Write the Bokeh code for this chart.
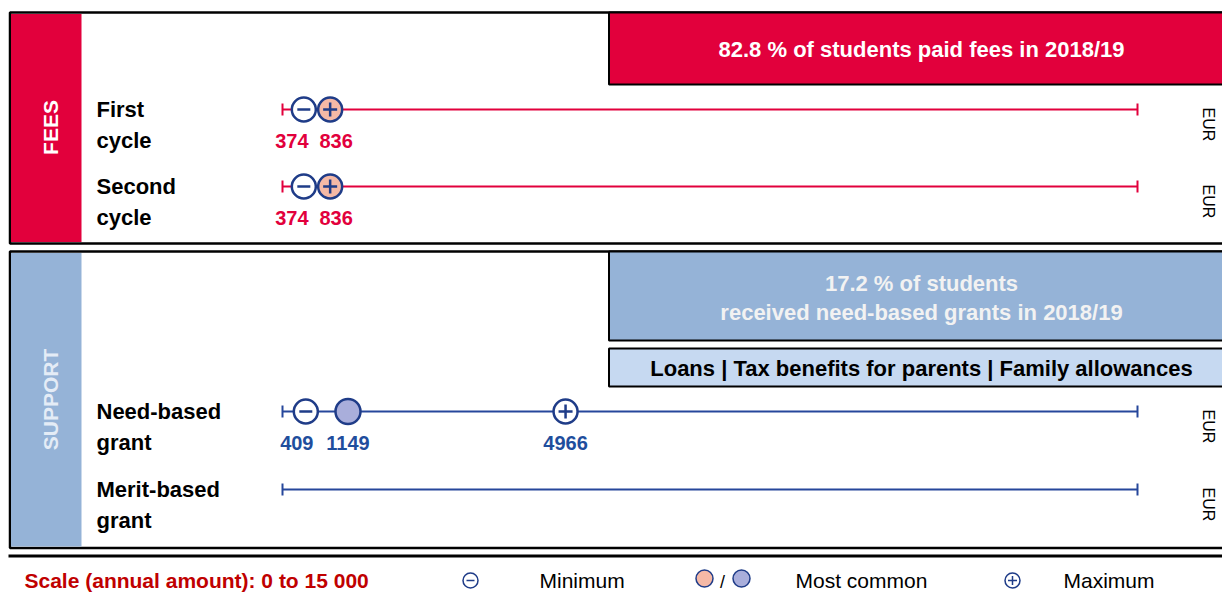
import math
from bokeh.plotting import figure
from bokeh.models import Range1d
from bokeh.core.properties import value
from bokeh.embed import file_html
from bokeh.resources import INLINE

# ---------------- data ----------------
SCALE_MIN = 0
SCALE_MAX = 15000
row_title_1 = ["First", "Second", "Need-based", "Merit-based"]
row_title_2 = ["cycle", "cycle", "grant", "grant"]
row_group = ["fees", "fees", "support", "support"]
minimum = [374, 374, 409, None]
most_common = [836, 836, 1149, None]
maximum = [836, 836, 4966, None]
unit = "EUR"
fees_note = "82.8 % of students paid fees in 2018/19"
support_note_1 = "17.2 % of students"
support_note_2 = "received need-based grants in 2018/19"
other_support = "Loans | Tax benefits for parents | Family allowances"
scale_note = "Scale (annual amount): 0 to 15 000"
legend_labels = ["Minimum", "Most common", "Maximum"]

# ---------------- style ----------------
RED = "#E2003C"
DARKRED = "#C00000"
BAND_BLUE = "#95B3D7"
LIGHT_BLUE = "#C6D9F1"
NAVY = "#1F3C88"
LINE_BLUE = "#26479B"
NUM_BLUE = "#1F4E9D"
SALMON = "#F5B9A6"
LAVENDER = "#A9AEDB"
SANS = "Liberation Sans"

W, H = 1222, 595
p = figure(width=W, height=H, output_backend="svg", toolbar_location=None,
           x_axis_type=None, y_axis_type=None,
           x_range=Range1d(0, W), y_range=Range1d(H, 0),
           min_border=0, outline_line_color=None)
p.xgrid.visible = False
p.ygrid.visible = False

# value scale: 0 -> pixel 282, 15000 -> pixel 1137
PX0, PX1 = 282, 1137
k = (SCALE_MAX - SCALE_MIN) / (PX1 - PX0)
p.extra_x_ranges = {"eur": Range1d(SCALE_MIN + (0 - PX0) * k, SCALE_MIN + (W - PX0) * k)}

def label(x, y, txt, size, color, bold=True, align="center", angle=0.0, **kw):
    p.text(x=x, y=y, text=txt, angle=angle, text_font=value(SANS),
           text_font_style="bold" if bold else "normal", text_font_size=size,
           text_color=color, text_align=align, text_baseline="middle", **kw)

# ---------------- panels ----------------
# fees panel
p.quad(left=[9.5], right=[1240], top=[12], bottom=[243], fill_color="white",
       line_color="black", line_width=2.5)
p.quad(left=[10.5], right=[81], top=[13.5], bottom=[241.5], fill_color=RED, line_color=None)
p.quad(left=[608.5], right=[1240], top=[12], bottom=[84], fill_color=RED,
       line_color="black", line_width=2)
label([921], [49], [fees_note], "22px", "white")
label([50], [127], ["FEES"], "21px", "white", angle=math.pi / 2)

# support panel
p.quad(left=[9.5], right=[1240], top=[251], bottom=[547.5], fill_color="white",
       line_color="black", line_width=2.5)
p.quad(left=[10.5], right=[81], top=[252.5], bottom=[546], fill_color=BAND_BLUE, line_color=None)
p.quad(left=[608.5], right=[1240], top=[251], bottom=[340], fill_color=BAND_BLUE,
       line_color="black", line_width=2)
label([921, 921], [283, 312], [support_note_1, support_note_2], "22px", "#F2F2F2")
p.quad(left=[608.5], right=[1240], top=[348], bottom=[386], fill_color=LIGHT_BLUE,
       line_color="black", line_width=2)
label([921], [368], [other_support], "22px", "black")
label([50], [399], ["SUPPORT"], "21px", "#E4ECF6", angle=math.pi / 2)

# ---------------- rows ----------------
row_y = [109, 186, 411, 489]
for i in range(len(row_title_1)):
    y = row_y[i]
    fees = row_group[i] == "fees"
    lc = RED if fees else LINE_BLUE
    tc = RED if fees else NUM_BLUE
    fill_mc = SALMON if fees else LAVENDER
    label([96, 96], [y, y + 31], [row_title_1[i], row_title_2[i]], "22px", "black", align="left")
    p.segment(x0=[SCALE_MIN], x1=[SCALE_MAX], y0=[y], y1=[y], line_color=lc,
              line_width=2, x_range_name="eur")
    p.segment(x0=[SCALE_MIN, SCALE_MAX], x1=[SCALE_MIN, SCALE_MAX], y0=[y - 6, y - 6],
              y1=[y + 6, y + 6], line_color=lc, line_width=2, x_range_name="eur")
    label([1208], [y + 15], [unit], "16px", "black", bold=False, angle=-math.pi / 2)

    mn, mc, mx = minimum[i], most_common[i], maximum[i]
    labels = []
    if mn is not None:
        p.scatter(x=[mn], y=[y], marker="circle", size=24, fill_color="white",
                  line_color=NAVY, line_width=2.5, x_range_name="eur")
        p.scatter(x=[mn], y=[y], marker="dash", size=13, line_color=NAVY,
                  line_width=2.5, x_range_name="eur")
        labels.append((mn, -12 if fees else -9))
    if mc is not None and mc != mx:
        p.scatter(x=[mc], y=[y], marker="circle", size=25, fill_color=fill_mc,
                  line_color=NAVY, line_width=2.5, x_range_name="eur")
        labels.append((mc, 0))
    if mx is not None:
        p.scatter(x=[mx], y=[y], marker="circle", size=24,
                  fill_color=fill_mc if mc == mx else "white",
                  line_color=NAVY, line_width=2.5, x_range_name="eur")
        p.scatter(x=[mx], y=[y], marker="cross", size=14, line_color=NAVY,
                  line_width=2.5, x_range_name="eur")
        labels.append((mx, 6 if fees else 0))
    for v, off in labels:
        label([v], [y + 31], [str(v)], "20px", tc, x_offset=off, x_range_name="eur")

# ---------------- legend ----------------
p.segment(x0=[8], x1=[1240], y0=[555.5], y1=[555.5], line_color="black", line_width=3)
ly = 580
label([24], [ly], [scale_note], "21px", DARKRED, align="left")
p.scatter(x=[470], y=[ly], marker="circle", size=15, fill_color="white", line_color=NAVY, line_width=1.5)
p.scatter(x=[470], y=[ly], marker="dash", size=8, line_color=NAVY, line_width=1.5)
p.scatter(x=[704, 741], y=[ly - 2, ly - 2], marker="circle", size=17, fill_color=[SALMON, LAVENDER],
          line_color=NAVY, line_width=1.5)
label([722], [ly + 1], ["/"], "18px", "black", bold=False)
p.scatter(x=[1012], y=[ly], marker="circle", size=15, fill_color="white", line_color=NAVY, line_width=1.5)
p.scatter(x=[1012], y=[ly], marker="cross", size=9, line_color=NAVY, line_width=1.5)
label([539, 795, 1063], [ly, ly, ly], legend_labels, "21px", "black", bold=False, align="left")

open("out.html", "w").write(file_html(p, INLINE))
